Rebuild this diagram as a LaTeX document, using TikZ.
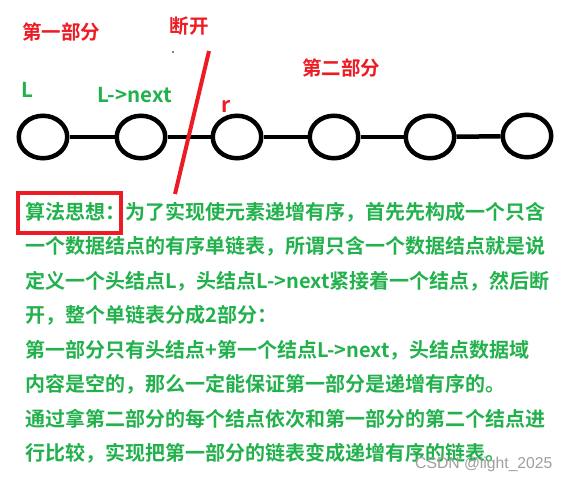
\documentclass[tikz,border=0pt]{standalone}
\usepackage{fontspec}
\newfontfamily\cjk{Noto Sans CJK SC}[BoldFont={Noto Sans CJK SC Bold}]
\newfontfamily\wmfont{Liberation Sans}
\usetikzlibrary{shapes.geometric}
\definecolor{paintred}{RGB}{237,28,36}
\definecolor{paintgreen}{RGB}{34,177,76}
\begin{document}
\begin{tikzpicture}[x=1pt,y=-1pt,
    listnode/.style={draw, ellipse, line width=4.5pt, minimum width=48.5pt, minimum height=42.5pt, inner sep=0pt},
    link/.style={line width=4.5pt},
    redlabel/.style={text=paintred, font=\cjk\bfseries\fontsize{19.5}{20}\selectfont, inner sep=0pt},
    greenlabel/.style={text=paintgreen, font=\cjk\bfseries\fontsize{20.5}{21}\selectfont, inner sep=0pt, anchor=base west},
    textline/.style={text=paintgreen, font=\cjk\bfseries\fontsize{20}{20}\selectfont, inner sep=0pt, anchor=base west}]
    \useasboundingbox[fill=white] (0,0) rectangle (567,482);

    % Part labels
    \node[redlabel] (part1) at (61,32) {第一部分};
    \node[redlabel] (cut) at (189,26) {断开};
    \node[redlabel] (part2) at (341,68) {第二部分};
    \fill (173,52) circle (0.8);

    % Linked list
    \node[listnode] (n1) at (43,137) {};
    \node[listnode] (n2) at (141,137) {};
    \node[listnode] (n3) at (237,137) {};
    \node[listnode] (n4) at (334,137) {};
    \node[listnode] (n5) at (430,137) {};
    \node[listnode] (n6) at (527,136) {};
    \draw[link] (n1) -- (n2);
    \draw[link] (n2) -- (n3);
    \draw[link] (n3) -- (n4);
    \draw[link] (n4) -- (n5);
    \draw[link] (n5) -- (n6);

    % Node labels
    \node[greenlabel] (lhead) at (21,97) {L};
    \node[greenlabel] (lnext) at (97,102) {L->next};
    \node[greenlabel, text=paintred, font=\cjk\bfseries\fontsize{21}{22}\selectfont] (rptr) at (221,112) {r};

    % Break line
    \coordinate (cuttop) at (209,51);
    \coordinate (cutbottom) at (175,194);
    \draw[paintred, line width=4pt] (cuttop) -- (cutbottom);

    % Explanation
    \node[textline] (t1) at (25,219) {算法思想：为了实现使元素递增有序，首先先构成一个只含};
    \node[textline] (t2) at (25,253.5) {一个数据结点的有序单链表，所谓只含一个数据结点就是说};
    \node[textline] (t3) at (25,288) {定义一个头结点L，头结点L->next紧接着一个结点，然后断};
    \node[textline] (t4) at (25,322.5) {开，整个单链表分成2部分：};
    \node[textline] (t5) at (25,357) {第一部分只有头结点+第一个结点L->next，头结点数据域};
    \node[textline] (t6) at (25,391.5) {内容是空的，那么一定能保证第一部分是递增有序的。};
    \node[textline] (t7) at (25,426) {通过拿第二部分的每个结点依次和第一部分的第二个结点进};
    \node[textline] (t8) at (25,460) {行比较，实现把第一部分的链表变成递增有序的链表。};
    \node[draw=paintred, line width=4pt, minimum width=103pt, minimum height=40pt, inner sep=0pt] (keybox) at (69.5,213) {};

    % Watermark
    \node[anchor=base west, inner sep=0pt, text=gray!75, font=\wmfont\fontsize{15.7}{16}\selectfont] (mark) at (415,468) {CSDN @light\_2025};
\end{tikzpicture}
\end{document}
